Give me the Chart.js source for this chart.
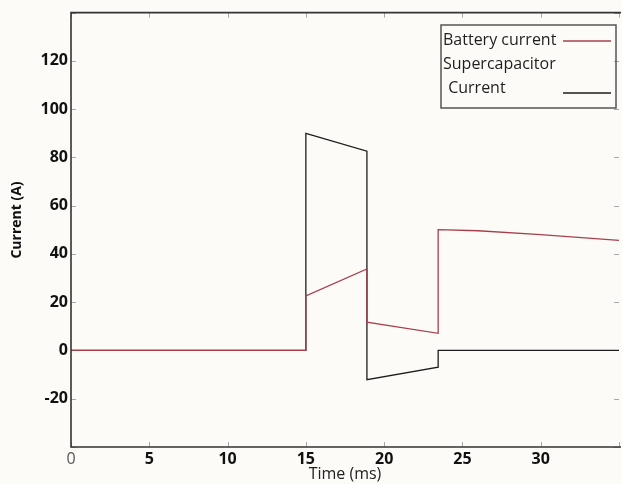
<!DOCTYPE html>
<html>
<head>
<meta charset="utf-8">
<script src="https://cdn.jsdelivr.net/npm/chart.js@4/dist/chart.umd.min.js"></script>
<style>
  html, body { margin: 0; padding: 0; background: #fcfbf7; }
  #wrap { width: 622px; height: 484px; }
  canvas { display: block; }
</style>
</head>
<body>
<div id="wrap"><canvas id="c" width="622" height="484"></canvas></div>
<script>
// Battery and supercapacitor currents over one load pulse
const batteryTime    = [0, 15, 15, 18.9, 18.9, 23.45, 23.45, 26, 30, 35];
const batteryCurrent = [0, 0, 22.6, 33.8, 11.7, 7.1, 50.1, 49.6, 48.0, 45.6];
const supercapTime    = [0, 15, 15, 18.9, 18.9, 23.45, 23.45, 35];
const supercapCurrent = [0, 0, 90, 82.6, -12.1, -6.9, 0, 0];

const xTickValues = [0, 5, 10, 15, 20, 25, 30, 35];
const yTickValues = [-40, -20, 0, 20, 40, 60, 80, 100, 120, 140];
const legendLines = [['Battery current'], ['Supercapacitor', ' Current']];
const yTitle = 'Current (A)';

const toPoints = (xs, ys) => xs.map((x, i) => ({ x: x, y: ys[i] }));

const BG = '#fcfbf7';
const FONT = '"Open Sans", "DejaVu Sans", sans-serif';

const backgroundPlugin = {
  id: 'bg',
  beforeDraw(chart) {
    const ctx = chart.ctx;
    ctx.save();
    ctx.fillStyle = BG;
    ctx.fillRect(0, 0, chart.width, chart.height);
    ctx.restore();
  }
};

// Inward tick marks on all four sides, under the data lines
const tickMarksPlugin = {
  id: 'tickMarks',
  beforeDatasetsDraw(chart) {
    const { ctx, chartArea: a, scales } = chart;
    ctx.save();
    ctx.strokeStyle = '#a8a8a8';
    ctx.lineWidth = 1;
    const tl = 5;
    scales.x.ticks.forEach(t => {
      const px = Math.round(scales.x.getPixelForValue(t.value)) + 0.5;
      ctx.beginPath();
      ctx.moveTo(px, a.bottom); ctx.lineTo(px, a.bottom - tl);
      ctx.moveTo(px, a.top); ctx.lineTo(px, a.top + tl);
      ctx.stroke();
    });
    scales.y.ticks.forEach(t => {
      const py = Math.round(scales.y.getPixelForValue(t.value)) + 0.5;
      ctx.beginPath();
      ctx.moveTo(a.left, py); ctx.lineTo(a.left + tl, py);
      ctx.moveTo(a.right, py); ctx.lineTo(a.right - tl, py);
      ctx.stroke();
    });
    ctx.restore();
  }
};

// Axis frame and the rotated y-axis title
const framePlugin = {
  id: 'frame',
  afterDraw(chart) {
    const { ctx, chartArea: a } = chart;
    ctx.save();
    ctx.strokeStyle = '#333';
    ctx.lineWidth = 1.6;
    ctx.beginPath();
    ctx.moveTo(a.right + 2, a.top);
    ctx.lineTo(a.left, a.top);
    ctx.lineTo(a.left, a.bottom);
    ctx.lineTo(a.right + 2, a.bottom);
    ctx.stroke();
    ctx.translate(17, 220);
    ctx.rotate(-Math.PI / 2);
    ctx.font = 'bold 14px ' + FONT;
    ctx.fillStyle = '#111';
    ctx.textAlign = 'center';
    ctx.textBaseline = 'middle';
    ctx.fillText(yTitle, 0, 0);
    ctx.restore();
  }
};

// Boxed legend: label text on the left, line sample on the right
const boxLegendPlugin = {
  id: 'boxLegend',
  afterDraw(chart) {
    const ctx = chart.ctx;
    const ds = chart.data.datasets;
    ctx.save();
    ctx.strokeStyle = '#555';
    ctx.lineWidth = 1.5;
    ctx.strokeRect(441, 25, 175, 83);
    ctx.font = '16px ' + FONT;
    ctx.fillStyle = '#1e1e1e';
    ctx.textBaseline = 'middle';
    ctx.textAlign = 'left';
    const rows = [[40], [64, 88]];
    const sampleY = [41, 93];
    legendLines.forEach((lines, i) => {
      lines.forEach((txt, j) => ctx.fillText(txt, 443 + (j ? 1 : 0), rows[i][j]));
      ctx.strokeStyle = ds[i].borderColor;
      ctx.lineWidth = 1.3;
      ctx.beginPath();
      ctx.moveTo(563, sampleY[i]);
      ctx.lineTo(611, sampleY[i]);
      ctx.stroke();
    });
    ctx.restore();
  }
};

new Chart(document.getElementById('c'), {
  type: 'scatter',
  data: {
    datasets: [
      {
        label: legendLines[0].join(' '),
        data: toPoints(batteryTime, batteryCurrent),
        showLine: true,
        borderColor: '#a8404c',
        borderWidth: 1.3,
        pointRadius: 0,
        tension: 0,
        order: 1
      },
      {
        label: legendLines[1].join(' '),
        data: toPoints(supercapTime, supercapCurrent),
        showLine: true,
        borderColor: '#1c1c1c',
        borderWidth: 1.3,
        pointRadius: 0,
        tension: 0,
        order: 2
      }
    ]
  },
  options: {
    responsive: false,
    animation: false,
    devicePixelRatio: 1,
    layout: { padding: { top: 11, right: 0, left: 0, bottom: 0 } },
    plugins: { legend: { display: false }, tooltip: { enabled: false } },
    scales: {
      x: {
        type: 'linear',
        min: 0, max: 35,
        afterBuildTicks: s => { s.ticks = xTickValues.map(v => ({ value: v })); },
        afterFit: s => { s.height = 37; },
        grid: { display: false, drawTicks: false },
        border: { display: false },
        ticks: {
          padding: 3,
          maxRotation: 0,
          autoSkip: false,
          callback: v => (v === 35 ? '' : String(v)),
          color: c => (c.tick && c.tick.value === 0 ? '#555' : '#111'),
          font: c => ({ family: FONT, size: 16, weight: c.tick && c.tick.value === 0 ? 'normal' : 'bold' })
        },
        title: {
          display: true,
          text: 'Time (ms)',
          color: '#222',
          font: { family: FONT, size: 16 },
          padding: { top: 0, bottom: 0 }
        }
      },
      y: {
        type: 'linear',
        min: -40, max: 140,
        afterBuildTicks: s => { s.ticks = yTickValues.map(v => ({ value: v })); },
        afterFit: s => { s.width = 71; },
        grid: { display: false, drawTicks: false },
        border: { display: false },
        ticks: {
          padding: 3,
          autoSkip: false,
          callback: v => (v === -40 || v === 140 ? '' : String(v)),
          color: '#111',
          font: { family: FONT, size: 16, weight: 'bold' }
        },
        title: { display: false }
      }
    }
  },
  plugins: [backgroundPlugin, tickMarksPlugin, framePlugin, boxLegendPlugin]
});
</script>
</body>
</html>
